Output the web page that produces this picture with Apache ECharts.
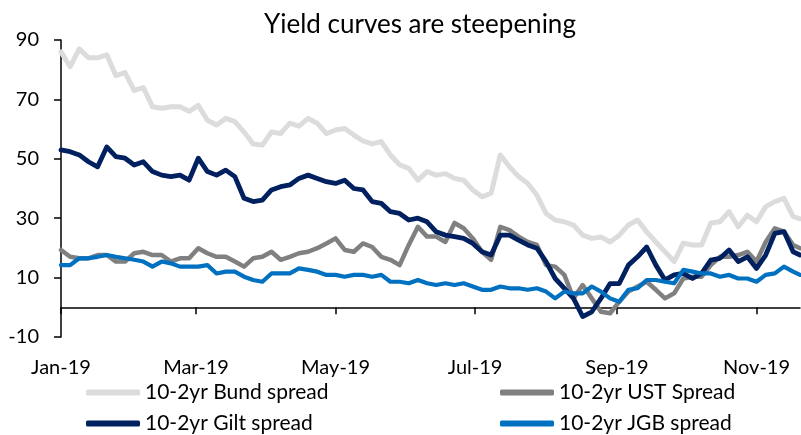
<!DOCTYPE html>
<html>
<head>
<meta charset="utf-8">
<script src="https://cdn.jsdelivr.net/npm/echarts@6/dist/echarts.min.js"></script>
<style>html,body{margin:0;padding:0;background:#fff}#c{width:801px;height:435px}</style>
</head>
<body>
<div id="c"></div>
<script>
var dates = ['2019-01-01','2019-01-05','2019-01-09','2019-01-13','2019-01-17','2019-01-21','2019-01-25','2019-01-29',
'2019-02-02','2019-02-06','2019-02-10','2019-02-14','2019-02-18','2019-02-22','2019-02-26',
'2019-03-02','2019-03-06','2019-03-10','2019-03-14','2019-03-18','2019-03-22','2019-03-26','2019-03-30',
'2019-04-03','2019-04-07','2019-04-11','2019-04-15','2019-04-19','2019-04-23','2019-04-27',
'2019-05-01','2019-05-05','2019-05-09','2019-05-13','2019-05-17','2019-05-21','2019-05-25','2019-05-29',
'2019-06-02','2019-06-06','2019-06-10','2019-06-14','2019-06-18','2019-06-22','2019-06-26','2019-06-30',
'2019-07-04','2019-07-08','2019-07-12','2019-07-16','2019-07-20','2019-07-24','2019-07-28',
'2019-08-01','2019-08-05','2019-08-09','2019-08-13','2019-08-17','2019-08-21','2019-08-25','2019-08-29',
'2019-09-02','2019-09-06','2019-09-10','2019-09-14','2019-09-18','2019-09-22','2019-09-26','2019-09-30',
'2019-10-04','2019-10-08','2019-10-12','2019-10-16','2019-10-20','2019-10-24','2019-10-28',
'2019-11-01','2019-11-05','2019-11-09','2019-11-13','2019-11-17','2019-11-20'];

var bund = [86,81,87,84,84,85,78,79,73,74,67.5,67,67.5,67.5,66,68,63,61.4,63.6,62.5,59,55,54.6,59,58.5,62,61,
63.6,62,58.5,59.7,60.2,58,56,55,55.8,51.3,48,46.8,42.8,45.7,44.5,45,43.4,42.8,39.5,37.2,38.4,51.3,47.3,44,41.7,37.8,31.6,
29.4,28.8,27.7,24.3,23.2,23.7,22,24.3,27.7,29.4,25.4,22,18.7,15.4,21.6,21,21,28.4,28.8,32.2,27.1,31,28.8,33.9,35.6,36.7,30.5,29.8];

var ust = [19.3,17,16.5,16.5,17.6,17.6,15.4,15.4,18.2,18.7,17.6,17.6,15.4,16.5,16.5,19.9,18.2,17,17,15.4,13.7,16.5,17,18.7,16,17,18.2,
18.7,19.9,21.5,23.2,19.3,18.7,21.5,20.3,17,16,14.2,21,27.1,23.8,23.8,22,28.4,26.6,23.2,18.7,16,27.1,26,23.8,22,21,14.2,
13.7,10.9,3,7.5,3,-1.5,-2,1.9,5.3,7,8.6,5.9,3,4.7,9.7,10.3,10.3,14.2,17,17,17.6,18.7,15.4,22,26.6,25.5,21,19.9];

var gilt = [53,52.4,51.3,49,47.3,54,50.7,50.2,47.9,49,45.7,44.5,44,44.5,42.8,50.2,45.7,44.5,46.2,44,36.7,35.6,36.1,39.5,40.6,41.2,43.4,
44.5,43.4,42.3,41.7,42.8,40,39.5,35.6,35,32.2,31.6,29.4,30,28.8,25.4,24.3,23.8,23.2,21.5,18.7,17.6,24.3,24.3,22.6,21,19.9,15.4,
9.7,6.4,3,-3.1,-1.5,3,8,8,14.2,17,20.3,14.2,9.2,10.9,11.4,9.7,11.4,15.9,16.5,19.3,15.4,17,13.1,17.6,24.9,25.5,18.7,17.6];

var jgb = [14.2,14.2,16.5,16.5,17,17.6,17,16.5,16,15.4,13.7,15.4,14.8,13.7,13.7,13.7,14.2,11.4,12,12,10.3,9.2,8.6,11.4,11.4,11.4,13.1,
12.6,12,10.9,10.9,10.3,10.9,10.9,10.3,10.9,8.6,8.6,8.1,9.2,8.1,7.5,8.1,7.5,8.1,7,5.9,5.9,7,6.4,6.4,5.9,6.4,5.3,
3,5.3,4.7,4.7,7,5.3,3,1.9,5.9,6.4,9.2,9.2,8.6,8.1,12.6,12,11.4,11.4,10.3,10.9,9.7,9.7,8.6,10.9,11.4,13.7,12,10.9];

var tickDates = ['2019-01-01','2019-03-01','2019-05-01','2019-07-01','2019-09-01','2019-11-01'];
var tickLabels = ['Jan-19','Mar-19','May-19','Jul-19','Sep-19','Nov-19'];
var seriesNames = ['10-2yr Bund spread','10-2yr UST Spread','10-2yr Gilt spread','10-2yr JGB spread'];
var colors = ['#DCDCDC','#808080','#002060','#0070C0'];

function toTime(s){var p=s.split('-').map(Number);return Date.UTC(p[0],p[1]-1,p[2]);}
var tickTimes = tickDates.map(toTime);
function pairs(vals){return dates.map(function(d,i){return [toTime(d), vals[i]];});}
var allVals = [bund, ust, gilt, jgb];
var widths = [5,4.5,4.8,4.2];

var FONT = 'Lato';
var xMin = toTime('2019-01-01'), xMax = toTime('2019-11-20');
var chart = echarts.init(document.getElementById('c'));
var legendPos = [[86,382],[500,382],[86,413],[500,413]];
chart.setOption({
  animation:false,
  color: colors,
  title:{text:'Yield curves are steepening', left:259, top:7,
    textStyle:{fontFamily:FONT, fontWeight:'normal', fontSize:26, color:'#000'}},
  legend: seriesNames.map(function(n,i){return {
    data:[n], left:legendPos[i][0], top:legendPos[i][1], padding:0,
    icon:'roundRect', itemWidth:54, itemHeight:6,
    textStyle:{fontFamily:FONT, fontSize:21, color:'#000'}
  };}),
  grid:{left:61, right:1, top:40, bottom:98, containLabel:false},
  xAxis:[{type:'value', min:xMin, max:xMax, position:'bottom',
    axisLine:{show:false, onZero:false},
    axisTick:{show:false},
    axisLabel:{customValues:tickTimes, margin:21, fontFamily:FONT, fontSize:20, color:'#000',
      formatter:function(v){var i=tickTimes.indexOf(v);return i>=0?tickLabels[i]:'';}},
    splitLine:{show:false}},
   {type:'value', min:xMin, max:xMax, position:'top',
    axisLine:{show:true, onZero:true, lineStyle:{color:'#000', width:1.5}},
    axisTick:{show:true, inside:true, length:7, customValues:tickTimes, lineStyle:{color:'#000', width:1.5}},
    axisLabel:{show:false},
    splitLine:{show:false}}],
  yAxis:{type:'value', min:-10, max:90, interval:20,
    axisLine:{show:true, onZero:false, lineStyle:{color:'#000', width:1.5}},
    axisTick:{show:true, length:7, lineStyle:{color:'#000', width:1.5}},
    axisLabel:{margin:22, fontFamily:FONT, fontSize:20, color:'#000'},
    splitLine:{show:false}},
  series: seriesNames.map(function(n,i){return {
    name:n, type:'line', data:pairs(allVals[i]), showSymbol:false, symbol:'none',
    lineStyle:{color:colors[i], width:widths[i], cap:'round', join:'round'},
    itemStyle:{color:colors[i]}, z:2+i
  };})
});
</script>
</body>
</html>
